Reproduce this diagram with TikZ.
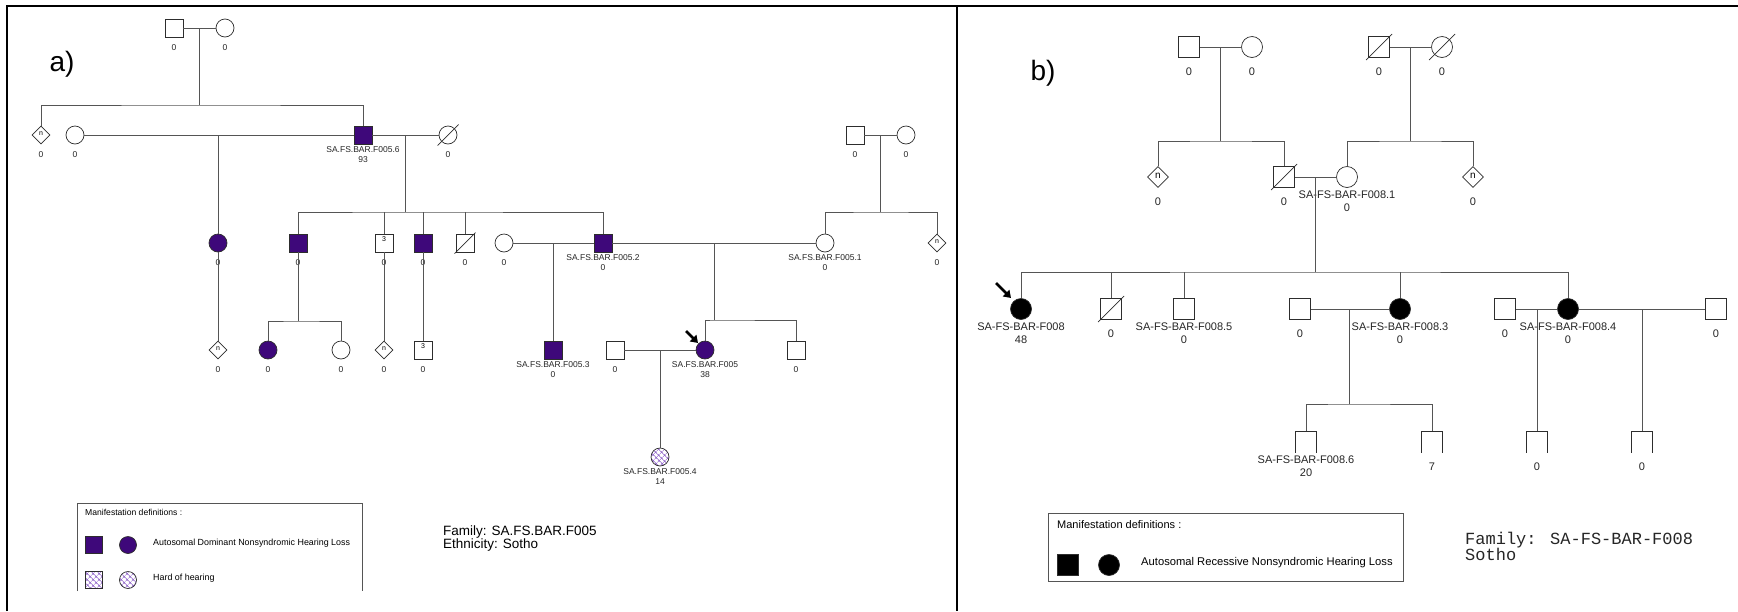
\documentclass[tikz,border=0pt]{standalone}
\usepackage{fontspec}
\setmainfont{Liberation Sans}
\newfontfamily\monof{Liberation Mono}
\usetikzlibrary{shapes.geometric,patterns.meta,arrows.meta,calc}
\definecolor{affc}{RGB}{62,8,122}
\definecolor{hatc}{RGB}{140,95,200}
\definecolor{lnc}{RGB}{85,85,85}
\definecolor{symc}{RGB}{45,45,45}
\newcommand\lafont{\fontsize{8.5}{10}\selectfont}
\newcommand\infont{\fontsize{7}{8}\selectfont}
\newcommand\labdy{20pt}
\newcommand\symsz{18pt}
\newcommand\pers[5]{\node[#1] (#2) at (#3) {#4}; \node[lbl] (#2-l) at ([yshift=-\labdy]#2.center) {#5};}
\newcommand\dead[2]{\draw[symln] ([shift={(-#2,-#2)}]#1.center) -- ([shift={(#2,#2)}]#1.center);}
\newcommand\nob[1]{\draw[symln] (#1.south west) -- (#1.north west) -- (#1.north east) -- (#1.south east);}
\tikzset{
  sym/.style={draw=symc, line width=0.7pt, inner sep=0pt, minimum size=\symsz, fill=white, font=\infont},
  male/.style={sym, rectangle},
  fem/.style={sym, circle},
  unk/.style={sym, diamond},
  affp/.style={fill=affc},
  affb/.style={fill=black},
  hatchp/.style={pattern={Hatch[angle=45,distance=4pt,line width=0.6pt]}, pattern color=hatc},
  nobot/.style={rectangle, inner sep=0pt, minimum size=\symsz},
  lbl/.style={font=\lafont, align=center, inner sep=0pt, text=black!85},
  ln/.style={draw=lnc, line width=0.8pt},
  symln/.style={draw=symc, line width=0.7pt},
  prob/.style={line width=2.6pt, -{Triangle[length=7pt,width=9pt]}, black},
  frame/.style={line width=2pt, black},
  legline/.style={draw=lnc, line width=0.9pt},
}
\begin{document}
\begin{tikzpicture}[x=1pt,y=-1pt]
\useasboundingbox (0,0) rectangle (1738,611);
\fill[white] (0,0) rectangle (1738,611);
% frame
\draw[frame] (7,611) -- (7,6) -- (1738,6);
\draw[frame] (957,6) -- (957,611);
\node[font=\fontsize{28}{30}\selectfont] (pa) at (62,64) {a)};
\node[font=\fontsize{28}{30}\selectfont] (pb) at (1043,73) {b)};

% ---------------- panel a ----------------
\pers{male}{a1}{174,28}{}{0}
\pers{fem}{a2}{225,28}{}{0}
\pers{unk}{a3}{41,135}{\raisebox{2pt}{n}}{0}
\pers{fem}{a4}{75,135}{}{0}
\pers{male,affp}{a6}{363,135}{}{SA.FS.BAR.F005.6\\93}
\pers{fem}{a7}{448,135}{}{0}
\pers{fem,affp}{a8}{218,243}{}{0}
\pers{male,affp}{a9}{298,243}{}{0}
\pers{male}{a10}{384,243}{\raisebox{8pt}{3}}{0}
\pers{male,affp}{a11}{423,243}{}{0}
\pers{male}{a12}{465,243}{}{0}
\pers{fem}{a14}{504,243}{}{0}
\pers{male,affp}{a13}{603,243}{}{SA.FS.BAR.F005.2\\0}
\pers{male}{a18}{855,135}{}{0}
\pers{fem}{a19}{906,135}{}{0}
\pers{fem}{a20}{825,243}{}{SA.FS.BAR.F005.1\\0}
\pers{unk}{a21}{937,243}{\raisebox{2pt}{n}}{0}
\pers{male,affp}{a17}{553,350}{}{SA.FS.BAR.F005.3\\0}
\pers{male}{a24}{615,350}{}{0}
\pers{fem,affp}{a22}{705,350}{}{SA.FS.BAR.F005\\38}
\pers{male}{a23}{796,350}{}{0}
\pers{fem,hatchp}{a25}{660,457}{}{SA.FS.BAR.F005.4\\14}
\pers{unk}{a26}{218,350}{\raisebox{2pt}{n}}{0}
\pers{fem,affp}{a27}{268,350}{}{0}
\pers{fem}{a28}{341,350}{}{0}
\pers{unk}{a29}{384,350}{\raisebox{2pt}{n}}{0}
\pers{male}{a30}{423,350}{\raisebox{8pt}{3}}{0}

\coordinate (ya) at (0,105);
\coordinate (yb) at (0,212);
\draw[ln] (a1.east) -- (a2.west);
\coordinate (m12) at ($(a1.east)!0.5!(a2.west)$);
\draw[ln] (m12) -- (m12 |- ya);
\draw[ln] (a3.north) |- (m12 |- ya) -| (a6.north);
\draw[ln] (a4.east) -- (a6.west);
\draw[ln] (a4.east -| a8.north) -- (a8.north);
\draw[ln] (a6.east) -- (a7.west);
\coordinate (m67) at (405,135);
\draw[ln] (m67) -- (m67 |- yb);
\draw[ln] (a9.north) |- (m67 |- yb) -| (a13.north);
\foreach \c in {a10,a11,a12} \draw[ln] (\c.north) -- (\c.north |- yb);
\draw[ln] (a14.east) -- (a13.west);
\draw[ln] (a14.east -| a17.north) -- (a17.north);
\draw[ln] (a18.east) -- (a19.west);
\coordinate (m1819) at ($(a18.east)!0.5!(a19.west)$);
\draw[ln] (m1819) -- (m1819 |- yb);
\draw[ln] (a20.north) |- (m1819 |- yb) -| (a21.north);
\draw[ln] (a13.east) -- (a20.west);
\coordinate (m1320) at (714,243);
\coordinate (s1320) at (714,320);
\draw[ln] (m1320) -- (s1320);
\draw[ln] (a22.north) |- (s1320) -| (a23.north);
\draw[ln] (a24.east) -- (a22.west);
\draw[ln] (a24.east -| a25.north) -- (a25.north);
\draw[ln] (a8.south) -- (a26.north);
\coordinate (s9) at (298,321);
\draw[ln] (a9.south) -- (s9);
\draw[ln] (a27.north) |- (s9) -| (a28.north);
\draw[ln] (a10.south) -- (a29.north);
\draw[ln] (a11.south) -- (a30.north);
\dead{a7}{10.5pt}
\dead{a12}{10.5pt}
\draw[prob] ([shift={(-19pt,19pt)}]a22.center) -- ([shift={(-7pt,7pt)}]a22.center);

% legend a
\draw[legline] (77,591) -- (77,503) -- (362,503) -- (362,591);
\node[anchor=west, inner sep=0pt, font=\fontsize{8.6}{10}\selectfont] (lta) at (85,512) {Manifestation definitions :};
\node[male,affp,minimum size=17pt] (la1) at (94,545) {};
\node[fem,affp,minimum size=17pt] (la2) at (128,545) {};
\node[anchor=west, inner sep=0pt, font=\fontsize{8.9}{10}\selectfont] (la3) at (153,543) {Autosomal Dominant Nonsyndromic Hearing Loss};
\node[male,hatchp,minimum size=17pt] (la4) at (94,580) {};
\node[fem,hatchp,minimum size=17pt] (la5) at (128,580) {};
\node[anchor=west, inner sep=0pt, font=\fontsize{8.9}{10}\selectfont] (la6) at (153,578) {Hard of hearing};
\node[anchor=west, inner sep=0pt, align=left, font=\fontsize{13.5}{13}\selectfont] (fama) at (443,539) {Family: SA.FS.BAR.F005\\Ethnicity: Sotho};

% ---------------- panel b ----------------
\renewcommand\symsz{21pt}
\renewcommand\lafont{\fontsize{11}{13}\selectfont}
\renewcommand\infont{\fontsize{10}{11}\selectfont}
\renewcommand\labdy{24.5pt}
\pers{male}{b1}{1189,47}{}{0}
\pers{fem}{b2}{1252,47}{}{0}
\pers{male}{b6}{1379,47}{}{0}
\pers{fem}{b7}{1442,47}{}{0}
\pers{unk}{b3}{1158,177}{\raisebox{3pt}{n}}{0}
\pers{male}{b4}{1284,177}{}{0}
\pers{fem}{b5}{1347,177}{}{SA-FS-BAR-F008.1\\0}
\pers{unk}{b8}{1473,177}{\raisebox{3pt}{n}}{0}
\pers{fem,affb}{c1}{1021,309}{}{SA-FS-BAR-F008\\48}
\pers{male}{c2}{1111,309}{}{0}
\pers{male}{c3}{1184,309}{}{SA-FS-BAR-F008.5\\0}
\pers{male}{c4}{1300,309}{}{0}
\pers{fem,affb}{c5}{1400,309}{}{SA-FS-BAR-F008.3\\0}
\pers{male}{c6}{1505,309}{}{0}
\pers{fem,affb}{c7}{1568,309}{}{SA-FS-BAR-F008.4\\0}
\pers{male}{c8}{1716,309}{}{0}
\pers{nobot}{d1}{1306,442}{}{SA-FS-BAR-F008.6\\20}
\pers{nobot}{d2}{1432,442}{}{7}
\pers{nobot}{d3}{1537,442}{}{0}
\pers{nobot}{d4}{1642,442}{}{0}

\coordinate (yc) at (0,141);
\coordinate (yd) at (0,272);
\draw[ln] (b1.east) -- (b2.west);
\coordinate (mb12) at ($(b1.east)!0.5!(b2.west)$);
\draw[ln] (mb12) -- (mb12 |- yc);
\draw[ln] (b3.north) |- (mb12 |- yc) -| (b4.north);
\draw[ln] (b6.east) -- (b7.west);
\coordinate (mb67) at ($(b6.east)!0.5!(b7.west)$);
\draw[ln] (mb67) -- (mb67 |- yc);
\draw[ln] (b5.north) |- (mb67 |- yc) -| (b8.north);
\draw[ln] (b4.east) -- (b5.west);
\coordinate (mb45) at ($(b4.east)!0.5!(b5.west)$);
\draw[ln] (mb45) -- (mb45 |- yd);
\draw[ln] (c1.north) |- (mb45 |- yd) -| (c7.north);
\foreach \c in {c2,c3,c5} \draw[ln] (\c.north) -- (\c.north |- yd);
\draw[ln] (c4.east) -- (c5.west);
\coordinate (mc45) at (1349,309);
\coordinate (sc45) at (1349,404);
\draw[ln] (mc45) -- (sc45);
\draw[ln] (d1.north) |- (sc45) -| (d2.north);
\draw[ln] (c6.east) -- (c7.west);
\draw[ln] (c6.east -| d3.north) -- (d3.north);
\draw[ln] (c7.east) -- (c8.west);
\draw[ln] (c7.east -| d4.north) -- (d4.north);
\nob{d1}\nob{d2}\nob{d3}\nob{d4}
\dead{b4}{13pt}
\dead{b6}{13pt}
\dead{b7}{13pt}
\dead{c2}{13pt}
\draw[prob] ([shift={(-25pt,26pt)}]c1.center) -- ([shift={(-10pt,11pt)}]c1.center);

% legend b
\draw[legline] (1048,513) rectangle (1403,581);
\node[anchor=west, inner sep=0pt, font=\fontsize{11}{13}\selectfont] (ltb) at (1057,525) {Manifestation definitions :};
\node[male,affb] (lb1) at (1068,565) {};
\node[fem,affb] (lb2) at (1109,565) {};
\node[anchor=west, inner sep=0pt, font=\fontsize{11.2}{13}\selectfont] (lb3) at (1141,563) {Autosomal Recessive Nonsyndromic Hearing Loss};
\node[anchor=west, inner sep=0pt, align=left, text=black!85, font=\monof\fontsize{17}{16}\selectfont] (famb) at (1465,546) {Family: SA-FS-BAR-F008\\Sotho};
\end{tikzpicture}
\end{document}
